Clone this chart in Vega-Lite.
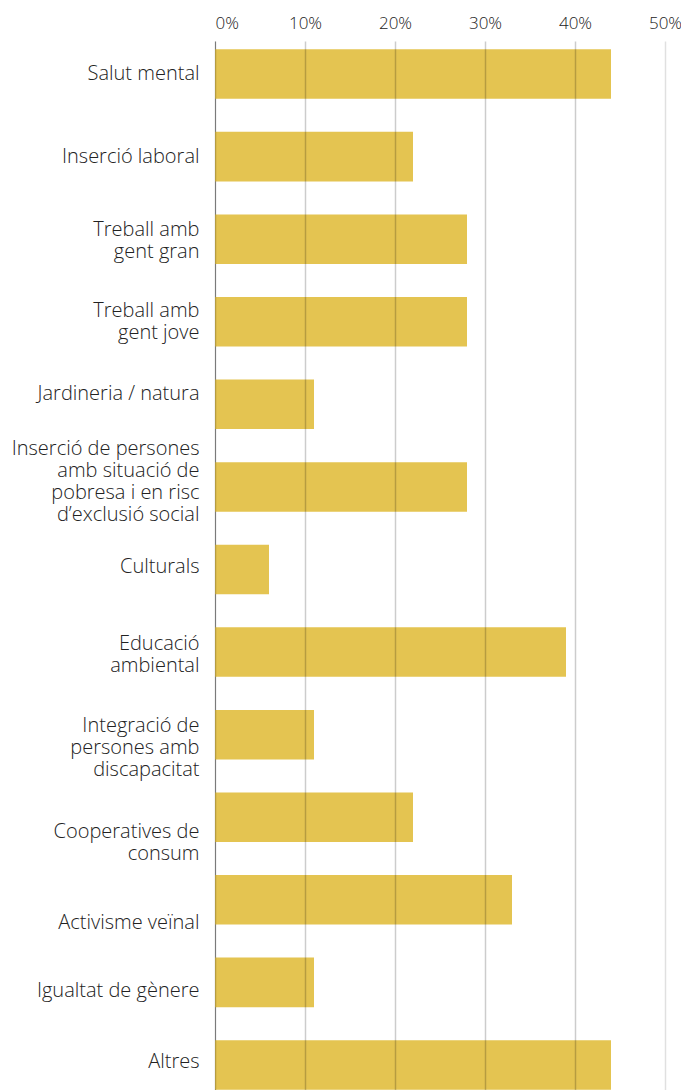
{
  "$schema": "https://vega.github.io/schema/vega-lite/v6.json",
  "width": 450,
  "height": 1057,
  "autosize": {"type": "none"},
  "padding": {"left": 215, "top": 41, "right": 16, "bottom": 0},
  "background": "white",
  "config": {"view": {"stroke": null}, "font": "Open Sans"},
  "data": {
    "values": [
      {"cat": "Salut mental", "v": 0.44},
      {"cat": "Inserció laboral", "v": 0.22},
      {"cat": "Treball amb|gent gran", "v": 0.28},
      {"cat": "Treball amb|gent jove", "v": 0.28},
      {"cat": "Jardineria / natura", "v": 0.11},
      {"cat": "Inserció de persones|amb situació de|pobresa i en risc|d’exclusió social", "v": 0.28},
      {"cat": "Culturals", "v": 0.06},
      {"cat": "Educació|ambiental", "v": 0.39},
      {"cat": "Integració de|persones amb|discapacitat", "v": 0.11},
      {"cat": "Cooperatives de|consum", "v": 0.22},
      {"cat": "Activisme veïnal", "v": 0.33},
      {"cat": "Igualtat de gènere", "v": 0.11},
      {"cat": "Altres", "v": 0.44}
    ]
  },
  "mark": {"type": "bar", "color": "#E4C451"},
  "encoding": {
    "y": {
      "field": "cat",
      "type": "nominal",
      "sort": null,
      "scale": {"paddingInner": 0.4, "paddingOuter": 0.1},
      "axis": {
        "title": null,
        "labelExpr": "split(datum.label, '|')",
        "labelFontSize": 20,
        "labelFontWeight": 300,
        "labelColor": "#222",
        "labelPadding": 16,
        "ticks": false,
        "domainColor": "#999",
        "labelLineHeight": 22,
        "labelLimit": 300,
        "labelOffset": {
          "condition": [
            {"test": "datum.value === 'Treball amb|gent gran'", "value": -9},
            {"test": "datum.value === 'Treball amb|gent jove'", "value": -11},
            {"test": "datum.value === 'Jardineria / natura'", "value": -10},
            {"test": "indexof(datum.value, 'Inserció de') === 0", "value": -38},
            {"test": "datum.value === 'Culturals'", "value": -3},
            {"test": "datum.value === 'Educació|ambiental'", "value": -8},
            {"test": "indexof(datum.value, 'Integració') === 0", "value": -9},
            {"test": "datum.value === 'Cooperatives de|consum'", "value": 15},
            {"test": "datum.value === 'Activisme veïnal'", "value": 23},
            {"test": "datum.value === 'Igualtat de gènere'", "value": 9},
            {"test": "datum.value === 'Altres'", "value": -3}
          ],
          "value": 0
        }
      }
    },
    "x": {
      "field": "v",
      "type": "quantitative",
      "scale": {"domain": [0, 0.5]},
      "axis": {
        "orient": "top",
        "format": "%",
        "values": [0, 0.1, 0.2, 0.3, 0.4, 0.5],
        "title": null,
        "ticks": false,
        "domain": false,
        "zindex": 1,
        "gridColor": "#000",
        "gridOpacity": {"condition": {"test": "datum.value === 0.5", "value": 0.12}, "value": 0.2},
        "gridWidth": 1.5,
        "labelPadding": 9,
        "labelFontSize": 17,
        "labelFontWeight": 300,
        "labelColor": "#222",
        "labelAlign": {"condition": {"test": "datum.value === 0", "value": "left"}, "value": "center"}
      }
    }
  }
}
